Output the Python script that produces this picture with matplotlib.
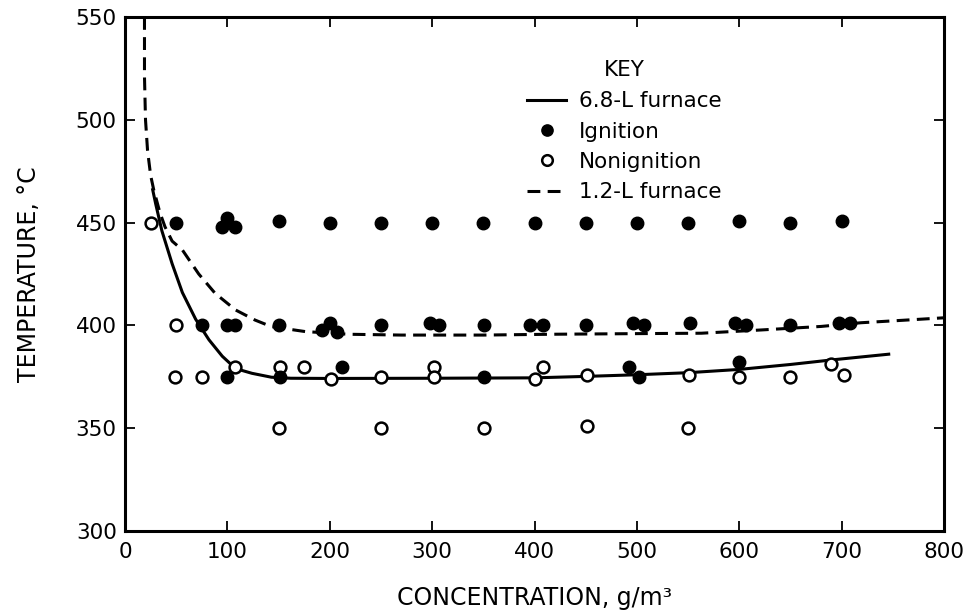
import matplotlib
matplotlib.use('Agg')
from matplotlib import pyplot as plt

# ignition points (filled)
ign_x = [50, 95, 100, 107, 150, 200, 250, 300, 350, 400, 450, 500, 550, 600, 650, 700,
         75, 100, 107, 150, 192, 200, 207, 250, 298, 307, 351, 396, 408, 450, 496, 507,
         552, 596, 607, 650, 697, 708,
         100, 151, 212, 351, 492, 502, 600]
ign_y = [450, 448, 452, 448, 451, 450, 450, 450, 450, 450, 450, 450, 450, 451, 450, 451,
         400, 400, 400, 400, 398, 401, 397, 400, 401, 400, 400, 400, 400, 400, 401, 400,
         401, 401, 400, 400, 401, 401,
         375, 375, 380, 375, 380, 375, 382]

# nonignition points (open)
non_x = [25, 50, 49, 75, 107, 151, 175, 201, 250, 302, 302, 400, 408, 451, 551, 600,
         650, 690, 702, 150, 250, 351, 451, 550]
non_y = [450, 400, 375, 375, 380, 380, 380, 374, 375, 380, 375, 374, 380, 376, 376, 375,
         375, 381, 376, 350, 350, 350, 351, 350]

# 6.8-L furnace curve
big_x = [27, 30, 36, 46, 56, 69, 82, 95, 108, 124, 143, 162, 200, 300, 400, 450, 500,
         550, 600, 650, 690, 746]
big_y = [466, 459, 446, 430, 416, 403, 393, 385, 379, 376.7, 374.8, 374.3, 374.2, 374.3,
         374.5, 375.2, 376, 377, 378.6, 381, 383.2, 386]

# 1.2-L furnace curve
small_x = [19, 19, 20, 22, 25, 28, 34, 39, 46, 56, 72, 88, 108, 127, 143, 176, 218, 270,
           350, 417, 500, 563, 622, 680, 719, 760, 800]
small_y = [550, 521, 500, 485, 473, 466, 455, 448, 441, 436.7, 425, 415.6, 407.5, 402.6,
           399.4, 397, 395.7, 395.3, 395.3, 395.7, 396, 396.2, 397.8, 399.5, 401.3, 402.5,
           403.7]

plt.rcParams['font.family'] = 'DejaVu Sans'

fig = plt.figure(figsize=(9.7, 6.11), dpi=100)
ax = fig.add_axes([0.1289, 0.1309, 0.8443, 0.8413])

l1, = ax.plot(big_x, big_y, color='black', lw=2.2, label='6.8-L furnace', zorder=2)
l2, = ax.plot(small_x, small_y, color='black', lw=2.2, linestyle=(0, (4.2, 2.4)),
              label='1.2-L furnace', zorder=2)
p1, = ax.plot(ign_x, ign_y, 'o', color='black', ms=9, label='Ignition', zorder=4)
p2, = ax.plot(non_x, non_y, 'o', mfc='white', mec='black', mew=1.8, ms=8.5,
              label='Nonignition', zorder=3)

ax.set_xlim(0, 800)
ax.set_ylim(300, 550)
ax.set_xticks(range(0, 801, 100))
ax.set_yticks(range(300, 551, 50))
ax.tick_params(direction='in', length=7, width=1.3, labelsize=15.5, pad=6,
               top=True, right=True)
ax.tick_params(axis='x', pad=8)
for s in ax.spines.values():
    s.set_linewidth(2.2)

ax.set_xlabel('CONCENTRATION, g/m³', fontsize=17, labelpad=17)
ax.set_ylabel('TEMPERATURE, °C', fontsize=17, labelpad=25)

leg = ax.legend([l1, p1, p2, l2], ['6.8-L furnace', 'Ignition', 'Nonignition', '1.2-L furnace'],
                title='KEY', frameon=False, fontsize=15.5, title_fontsize=15.5,
                loc='upper left', handlelength=1.8, handletextpad=0.6,
                labelspacing=0.48, markerscale=0.9, borderpad=0.3)
leg.set_bbox_to_anchor((510 / 970, (611 - 43) / 611), transform=fig.transFigure)
leg._legend_box.sep = 8

fig.savefig('out.png', dpi=100)
